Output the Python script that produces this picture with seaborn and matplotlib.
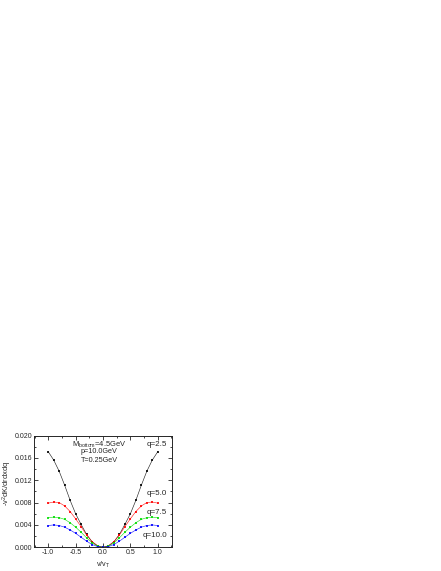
import numpy as np
import pandas as pd
import matplotlib
matplotlib.use("Agg")
import matplotlib.pyplot as plt
import seaborn as sns
from matplotlib.ticker import MultipleLocator, FormatStrFormatter

# ---- data ----
v_half = [0.0, 0.1, 0.2, 0.3, 0.4, 0.5, 0.6, 0.7, 0.8, 0.9, 1.0]
q25 = [0.0, 0.00025, 0.0010, 0.0023, 0.0041, 0.0060, 0.0084, 0.0111, 0.0136, 0.0156, 0.0171]
q50 = [0.0, 0.0003, 0.0010, 0.0022, 0.0037, 0.0051, 0.0064, 0.0074, 0.0080, 0.0081, 0.0079]
q75 = [0.0, 0.0002, 0.0008, 0.0017, 0.0027, 0.0036, 0.0044, 0.0050, 0.0053, 0.0054, 0.0053]
q100 = [0.0, 0.00013, 0.0005, 0.0011, 0.0018, 0.0025, 0.0031, 0.0036, 0.0039, 0.0040, 0.0039]

labels = ["q=2.5", "q=5.0", "q=7.5", "q=10.0"]
series = [q25, q50, q75, q100]
colors = ["#000000", "#ff0000", "#00dd00", "#0000ff"]
label_y = [0.0184, 0.00964, 0.0063, 0.0021]

rows = []
for lab, vals in zip(labels, series):
    xs = [-x for x in v_half[::-1]] + v_half[1:]
    ys = vals[::-1] + vals[1:]
    for x, y in zip(xs, ys):
        rows.append({"v": x, "val": y, "q": lab})
df = pd.DataFrame(rows)

sns.set_style("ticks")
plt.rcParams['font.family'] = ['Liberation Sans', 'DejaVu Sans']

fig = plt.figure(figsize=(4.41, 5.71), dpi=100)
ax = fig.add_axes([0.0771, 0.0415, 0.3129, 0.1958])

sns.lineplot(data=df, x="v", y="val", hue="q", palette=colors, ax=ax,
             marker="s", markersize=2, markeredgewidth=0, linewidth=0.45,
             alpha=0.85, legend=False)

ax.set_xlim(-1.26, 1.26)
ax.set_ylim(0, 0.020)
ax.xaxis.set_major_locator(MultipleLocator(0.5))
ax.xaxis.set_minor_locator(MultipleLocator(0.25))
ax.yaxis.set_major_locator(MultipleLocator(0.004))
ax.yaxis.set_minor_locator(MultipleLocator(0.002))
ax.xaxis.set_major_formatter(FormatStrFormatter('%.1f'))
ax.yaxis.set_major_formatter(FormatStrFormatter('%.3f'))
ax.tick_params(which='both', direction='in', top=True, right=True,
               labelsize=5, width=0.6, pad=1.5)
ax.tick_params(which='major', length=3)
ax.tick_params(which='minor', length=1.5)
for s in ax.spines.values():
    s.set_linewidth(0.7)

ax.set_xlabel("v/v$_\\mathregular{T}$", fontsize=5.2, va='center')
ax.set_ylabel("-v$^\\mathregular{2}$dK/drdxdq", fontsize=5.4, va='center', ha='center')
ax.xaxis.set_label_coords(0.5, -0.154)
ax.yaxis.set_label_coords(-0.196, 0.575)

ax.text(-0.07, 0.0184, "M$_\\mathregular{bottom}$=4.5GeV", fontsize=5.4, ha='center', va='center')
ax.text(-0.07, 0.01705, "p=10.0GeV", fontsize=5.2, ha='center', va='center')
ax.text(-0.07, 0.0155, "T=0.25GeV", fontsize=5.2, ha='center', va='center')

for lab, yy in zip(labels, label_y):
    ax.text(1.165, yy, lab, fontsize=5.8, ha='right', va='center')

fig.savefig("out.png", dpi=100)
